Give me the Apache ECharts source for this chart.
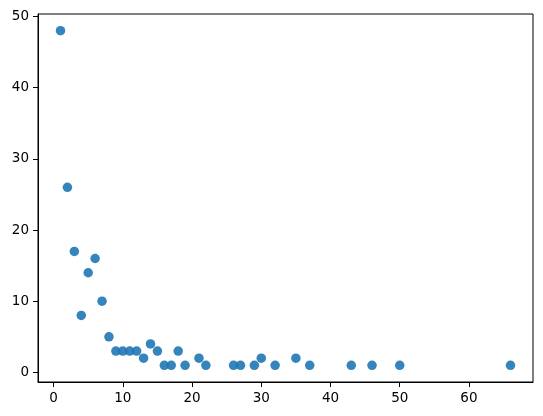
<!DOCTYPE html>
<html>
<head>
<meta charset="utf-8">
<script src="https://cdn.jsdelivr.net/npm/echarts@6/dist/echarts.min.js"></script>
<style>
  html, body { margin: 0; padding: 0; background: #fff; }
  #chart { width: 543px; height: 416px; }
</style>
</head>
<body>
<div id="chart"></div>
<script>
// values
const xValues = [1, 2, 3, 4, 5, 6, 7, 8, 9, 10, 11, 12, 13, 14, 15, 16, 17, 18, 19, 21, 22, 26, 27, 29, 30, 32, 35, 37, 43, 46, 50, 66];
const yValues = [48, 26, 17, 8, 14, 16, 10, 5, 3, 3, 3, 3, 2, 4, 3, 1, 1, 3, 1, 2, 1, 1, 1, 1, 2, 1, 2, 1, 1, 1, 1, 1];
const xTicks = [0, 10, 20, 30, 40, 50, 60];
const yTicks = [0, 10, 20, 30, 40, 50];

const points = xValues.map((x, i) => [x, yValues[i]]);

const chart = echarts.init(document.getElementById('chart'));

const axisCommon = {
  type: 'value',
  axisLine: { show: true, onZero: false, lineStyle: { color: '#000', width: 1 } },
  axisTick: { show: true, inside: false, length: 5, lineStyle: { color: '#000', width: 1 } },
  axisLabel: { color: '#000', fontFamily: 'DejaVu Sans', fontSize: 13.5, margin: 9 },
  splitLine: { show: false }
};

chart.setOption({
  animation: false,
  grid: {
    left: 38, right: 10, top: 14, bottom: 34,
    show: true, borderColor: '#000', borderWidth: 1, backgroundColor: 'transparent'
  },
  xAxis: Object.assign({}, axisCommon, {
    min: -2.25, max: 69.25,
    axisTick: Object.assign({}, axisCommon.axisTick, { customValues: xTicks }),
    axisLabel: Object.assign({}, axisCommon.axisLabel, { customValues: xTicks })
  }),
  yAxis: Object.assign({}, axisCommon, {
    min: -1.35, max: 50.35,
    axisTick: Object.assign({}, axisCommon.axisTick, { customValues: yTicks }),
    axisLabel: Object.assign({}, axisCommon.axisLabel, { customValues: yTicks })
  }),
  series: [{
    type: 'scatter',
    data: points,
    symbolSize: 9.5,
    itemStyle: { color: '#1f77b4', opacity: 0.9 }
  }]
});
</script>
</body>
</html>
